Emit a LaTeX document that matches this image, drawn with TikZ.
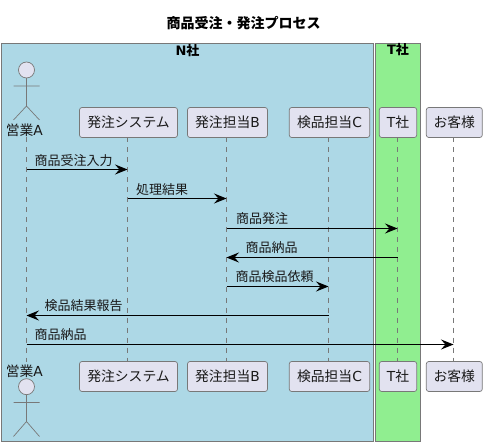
\documentclass[tikz,border=0pt]{standalone}
\usepackage{fontspec}
\setmainfont{Noto Sans CJK JP}
\newfontfamily\lat{DejaVu Sans}
\usetikzlibrary{arrows.meta}
\definecolor{partfill}{HTML}{E2E2F0}
\definecolor{partline}{HTML}{787878}
\definecolor{nbox}{HTML}{ADD8E6}
\definecolor{tbox}{HTML}{90EE90}
\tikzset{
  x=1pt,y=-1pt,
  groupbox/.style={draw=partline,line width=0.8pt,anchor=north west,inner sep=0pt,outer sep=0pt},
  grouplabel/.style={font=\fontsize{13}{13}\selectfont\bfseries,inner sep=0pt,text=black},
  part/.style={draw=partline,fill=partfill,line width=0.7pt,rounded corners=2.5pt,minimum height=30pt,inner sep=0pt,outer sep=0pt,font=\fontsize{13.8}{14}\selectfont,text=black!90},
  actorhead/.style={circle,draw=partline,fill=partfill,line width=0.7pt,minimum size=16pt,inner sep=0pt,outer sep=0pt},
  actorline/.style={draw=partline,line width=0.7pt},
  actorlabel/.style={font=\fontsize{13.8}{14}\selectfont,inner sep=0pt,text=black!90},
  lifeline/.style={draw=partline,line width=0.7pt,dash pattern=on 5pt off 5pt},
  msg/.style={draw=black,line width=0.8pt,-{Stealth[length=12.5pt,width=10pt,inset=4.5pt]}},
  msglabel/.style={font=\fontsize{13}{13}\selectfont,inner sep=0pt,anchor=west,text=black!90},
}
\begin{document}
\begin{tikzpicture}
\useasboundingbox (0,0) rectangle (487,446);
\node[font=\fontsize{14}{14}\selectfont\bfseries,inner sep=0pt] (title) at (243.5,23) {商品受注・発注プロセス};
\node[groupbox,fill=nbox,minimum width=372.5pt,minimum height=398pt] (nco) at (1.2,43.4) {};
\node[groupbox,fill=tbox,minimum width=44.7pt,minimum height=398pt] (tco) at (375.8,43.4) {};
\node[grouplabel] (ncolabel) at (187.5,50.5) {{\lat\bfseries N}社};
\node[grouplabel] (tcolabel) at (398,49.5) {{\lat\bfseries T}社};
% lifeline positions
\coordinate (lA) at (26.5,0);
\coordinate (lS) at (127.5,0);
\coordinate (lB) at (226.5,0);
\coordinate (lC) at (328.5,0);
\coordinate (lT) at (397.5,0);
\coordinate (lK) at (453.5,0);
% participants
\node[part,minimum width=98pt] (sTop) at (128.5,122.5) {発注システム};
\node[part,minimum width=80pt] (bTop) at (227.5,122.5) {発注担当{\lat B}};
\node[part,minimum width=80.5pt] (cTop) at (329.5,122.5) {検品担当{\lat C}};
\node[part,minimum width=37.5pt] (tTop) at (398,122.5) {{\lat T}社};
\node[part,minimum width=56pt] (kTop) at (454.3,122.5) {お客様};
\node[part,minimum width=98pt] (sBot) at (128.5,376.5) {発注システム};
\node[part,minimum width=80pt] (bBot) at (227.5,376.5) {発注担当{\lat B}};
\node[part,minimum width=80.5pt] (cBot) at (329.5,376.5) {検品担当{\lat C}};
\node[part,minimum width=37.5pt] (tBot) at (398,376.5) {{\lat T}社};
\node[part,minimum width=56pt] (kBot) at (454.3,376.5) {お客様};
% actors
\node[actorhead] (aTopHead) at (26.5,70) {};
\coordinate (aTopHip) at (26.5,106);
\coordinate (aTopArmL) at (13.5,86);
\coordinate (aTopArmR) at (39.5,86);
\coordinate (aTopLegL) at (13.5,120);
\coordinate (aTopLegR) at (39.5,120);
\draw[actorline] (aTopHead.south) -- (aTopHip) (aTopArmL) -- (aTopArmR) (aTopLegL) -- (aTopHip) -- (aTopLegR);
\node[actorlabel] (aTopLabel) at (24.3,130) {営業{\lat A}};
\node[actorlabel] (aBotLabel) at (24.3,371) {営業{\lat A}};
\node[actorhead] (aBotHead) at (26.5,386.7) {};
\coordinate (aBotHip) at (26.5,421.5);
\coordinate (aBotArmL) at (13.5,402.5);
\coordinate (aBotArmR) at (39.5,402.5);
\coordinate (aBotLegL) at (13.5,436.5);
\coordinate (aBotLegR) at (39.5,436.5);
\draw[actorline] (aBotHead.south) -- (aBotHip) (aBotArmL) -- (aBotArmR) (aBotLegL) -- (aBotHip) -- (aBotLegR);
% lifelines
\coordinate (aTopEnd) at (26.5,137.5);
\coordinate (aBotEnd) at (26.5,361.5);
\draw[lifeline] (aTopEnd) -- (aBotEnd);
\draw[lifeline] (lS |- sTop.south) -- (lS |- sBot.north);
\draw[lifeline] (lB |- bTop.south) -- (lB |- bBot.north);
\draw[lifeline] (lC |- cTop.south) -- (lC |- cBot.north);
\draw[lifeline] (lT |- tTop.south) -- (lT |- tBot.north);
\draw[lifeline] (lK |- kTop.south) -- (lK |- kBot.north);
% rows
\coordinate (r1) at (0,169.5);
\coordinate (r2) at (0,198.5);
\coordinate (r3) at (0,228.5);
\coordinate (r4) at (0,257.5);
\coordinate (r5) at (0,286.5);
\coordinate (r6) at (0,315.5);
\coordinate (r7) at (0,344.5);
% messages
\draw[msg] (lA |- r1) -- (lS |- r1);
\draw[msg] (lS |- r2) -- (lB |- r2);
\draw[msg] (lB |- r3) -- (lT |- r3);
\draw[msg] (lT |- r4) -- (lB |- r4);
\draw[msg] (lB |- r5) -- (lC |- r5);
\draw[msg] (lC |- r6) -- (lA |- r6);
\draw[msg] (lA |- r7) -- (lK |- r7);
% message labels
\node[msglabel] (m1) at (34.5,160.5) {商品受注入力};
\node[msglabel] (m2) at (136,189.5) {処理結果};
\node[msglabel] (m3) at (236,218.5) {商品発注};
\node[msglabel] (m4) at (245.5,247.5) {商品納品};
\node[msglabel] (m5) at (235.5,276.5) {商品検品依頼};
\node[msglabel] (m6) at (44.5,305.5) {検品結果報告};
\node[msglabel] (m7) at (34.5,335) {商品納品};
\end{tikzpicture}
\end{document}
